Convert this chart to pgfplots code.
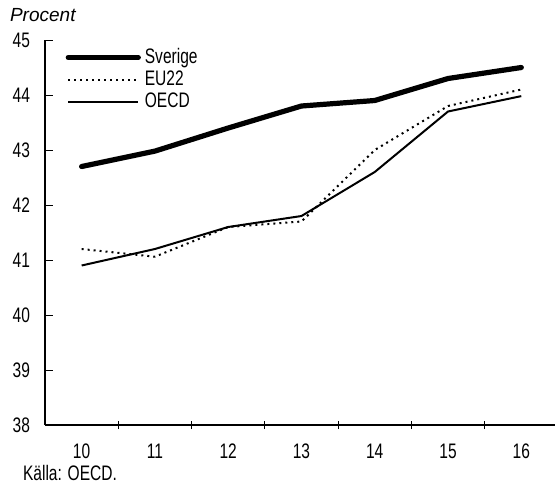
\documentclass[border=0pt]{standalone}
\usepackage{fontspec}
\setmainfont[FakeStretch=0.74]{Liberation Sans}
\newfontfamily\plainsans{Liberation Sans}
\usepackage{pgfplots}
\pgfplotsset{compat=1.18}
\begin{document}
\begin{tikzpicture}
\useasboundingbox (0,0) rectangle (277.5pt,241.5pt);
\begin{axis}[
  at={(22.5pt,29pt)}, anchor=south west,
  scale only axis, width=255pt, height=192.5pt,
  xmin=9.5, xmax=16.46, ymin=38, ymax=45,
  axis x line=bottom, axis y line=left,
  axis line style={-, line width=0.6pt},
  clip=false,
  xtick={10.5,11.5,12.5,13.5,14.5,15.5}, xticklabels={},
  x tick style={line width=0.5pt, black}, 
  xtick align=center, major tick length=6pt,
  extra x ticks={10,11,12,13,14,15,16},
  extra x tick labels={10,11,12,13,14,15,16},
  extra x tick style={major tick length=0pt, tick label style={yshift=-6pt}},
  ytick={38,39,40,41,42,43,44,45},
  ytick align=inside, y tick style={line width=0.5pt, black}, major tick length=4pt,
  yticklabel style={xshift=-4pt},
  /pgf/number format/assume math mode=true,
  tick label style={font=\fontsize{10.5}{12}\selectfont},
  legend style={at={(0.028,1.0)}, anchor=north west, draw=none, fill=none,
    font=\fontsize{10.5}{12}\selectfont, row sep=-1.8pt},
  legend cell align=left,
  legend image code/.code={\draw[#1] (0pt,0pt) -- (35pt,0pt);},
]
\addplot[black, line width=2.6pt, line cap=round] coordinates {(10,42.7)(11,42.98)(12,43.4)(13,43.8)(14,43.9)(15,44.3)(16,44.5)};
\addlegendentry{Sverige}
\addplot[black, line width=1pt, dotted] coordinates {(10,41.2)(11,41.06)(12,41.6)(13,41.7)(14,43.0)(15,43.8)(16,44.1)};
\addlegendentry{EU22}
\addplot[black, line width=1pt] coordinates {(10,40.9)(11,41.2)(12,41.6)(13,41.8)(14,42.6)(15,43.7)(16,43.98)};
\addlegendentry{OECD}
\end{axis}
\node[anchor=west, font=\plainsans\itshape\fontsize{9.5}{11}\selectfont] at (1.5pt,234pt) {Procent};
\node[anchor=west, font=\fontsize{10.5}{12}\selectfont] at (8pt,5pt) {Källa: OECD.};
\end{tikzpicture}
\end{document}
